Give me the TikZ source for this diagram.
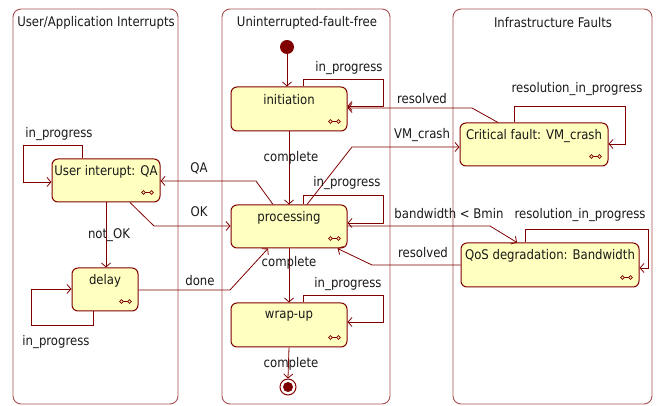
\documentclass[tikz,border=0pt]{standalone}
\usepackage{fontspec}
\setmainfont{DejaVu Sans}[FakeStretch=0.88]
\usetikzlibrary{arrows.meta,calc}
\definecolor{dred}{HTML}{800000}
\definecolor{lanec}{HTML}{A85050}
\definecolor{sfill}{HTML}{FFFFC0}
\newcommand\stateicon[1]{%
  \draw[dred,line width=0.7pt] ($(#1.south east)+(-17,-10)$) circle (1.8)
    ($(#1.south east)+(-9,-10)$) circle (1.8)
    ($(#1.south east)+(-15.2,-10)$) -- ($(#1.south east)+(-10.8,-10)$);}
\begin{document}
\begin{tikzpicture}[x=1pt,y=-1pt,
  every node/.style={inner sep=0pt},
  txt/.style={font=\fontsize{13.3}{15}\selectfont, text=black!90},
  lane/.style={draw=lanec, line width=0.9pt, rounded corners=8pt},
  state/.style={draw=dred, fill=sfill, line width=1pt, rounded corners=6pt},
  conn/.style={draw=dred, line width=0.8pt, -{Straight Barb[length=4pt,width=9pt]}}]
\useasboundingbox (0,0) rectangle (657,406);
% lanes
\node[lane, minimum width=165pt, minimum height=395pt] (lane1) at (95.5,206.5) {};
\node[lane, minimum width=168pt, minimum height=395pt] (lane2) at (306,206.5) {};
\node[lane, minimum width=199pt, minimum height=395pt] (lane3) at (552.5,206.5) {};
\node[txt] (t1) at (96,23) {User/Application Interrupts};
\node[txt] (t2) at (307,23) {Uninterrupted-fault-free};
\node[txt] (t3) at (553,23) {Infrastructure Faults};
% states
\node[state, minimum width=116pt, minimum height=44pt] (init) at (289,109) {};
\node[state, minimum width=116pt, minimum height=43pt] (proc) at (289,226.5) {};
\node[state, minimum width=116pt, minimum height=44pt] (wrap) at (289,325) {};
\node[state, minimum width=108pt, minimum height=43pt] (ui) at (106,180.5) {};
\node[state, minimum width=66pt, minimum height=43pt] (delay) at (105,289.5) {};
\node[state, minimum width=148pt, minimum height=43pt] (crit) at (534,144.5) {};
\node[state, minimum width=178pt, minimum height=44pt] (qos) at (550,265) {};
\node[txt] (initT) at ([yshift=-13.5pt]init.north) {initiation};
\node[txt] (procT) at ([yshift=-13.5pt]proc.north) {processing};
\node[txt] (wrapT) at ([yshift=-13.5pt]wrap.north) {wrap-up};
\node[txt] (uiT) at ([yshift=-13.5pt]ui.north) {User interupt: QA};
\node[txt] (delayT) at ([yshift=-13.5pt]delay.north) {delay};
\node[txt] (critT) at ([yshift=-13.5pt]crit.north) {Critical fault: VM\_crash};
\node[txt] (qosT) at ([yshift=-13.5pt]qos.north) {QoS degradation: Bandwidth};
\foreach \s in {init,proc,wrap,ui,delay,crit,qos} {\stateicon{\s}}
% pseudo states
\node[circle, fill=dred, minimum size=14pt] (start) at (287,47) {};
\node[circle, draw=dred, line width=1pt, fill=white, minimum size=16pt] (final) at (288,387) {};
\node[circle, fill=dred, minimum size=10pt] (finalin) at (288,387) {};
% connectors
\draw[conn] (start.south) -- (start.south |- init.north);
\draw[conn] ([xshift=14pt]init.north) |- (383,79) |- (init.east |- 0,106);
\draw[conn] ([xshift=-36pt]crit.north) -- (472,108) -- (init.east |- 0,108);
\draw[conn] (init.south) -- (proc.north);
\draw[conn] ([xshift=18pt]proc.north) -- (352,147) -- (crit.west |- 0,147);
\draw[conn] ([xshift=14pt]proc.north) |- (383,195) |- (proc.east |- 0,223);
\draw[conn] (proc.east |- 0,226) -- (490,226) -- ([xshift=-33pt]qos.north);
\draw[conn] ([xshift=-25pt]qos.north) |- (648,229) |- (qos.east |- 0,268);
\draw[conn] (qos.west |- 0,265) -- (372,265) -- ([xshift=-10pt]proc.south east);
\draw[conn] (proc.south) -- (wrap.north);
\draw[conn] ([xshift=14pt]wrap.north) |- (383,295) |- (wrap.east |- 0,322);
\draw[conn] (wrap.south) -- (final.north);
\draw[conn] ([xshift=-20pt]crit.north) |- (625,106) |- (crit.east |- 0,144);
\draw[conn] ([xshift=-16pt]proc.north) -- (256,181) -- (ui.east |- 0,181);
\draw[conn] ([xshift=24pt]ui.south) -- (154,226) -- (proc.west |- 0,226);
\draw[conn] ([xshift=-24pt]ui.north) |- (23,145) |- (ui.west |- 0,182);
\draw[conn] (ui.south) -- (ui.south |- delay.north);
\draw[conn] ([xshift=-12pt]delay.south) |- (31,325) |- (delay.west |- 0,289);
\draw[conn] (delay.east |- 0,290) -- (230,290) -- ([xshift=-21pt]proc.south);
% labels
\node[txt] (l1) at (349,68) {in\_progress};
\node[txt] (l2) at (422,99) {resolved};
\node[txt] (l3) at (291,158) {complete};
\node[txt] (l4) at (422,135) {VM\_crash};
\node[txt] (l5) at (347,183) {in\_progress};
\node[txt] (l6) at (449,214) {bandwidth < Bmin};
\node[txt] (l7) at (580,215) {resolution\_in\_progress};
\node[txt] (l8) at (423,253) {resolved};
\node[txt] (l9) at (289,263) {complete};
\node[txt] (l10) at (348,284) {in\_progress};
\node[txt] (l11) at (291,364) {complete};
\node[txt] (l12) at (577,89) {resolution\_in\_progress};
\node[txt] (l13) at (199,168) {QA};
\node[txt] (l14) at (199,212) {OK};
\node[txt] (l15) at (59,134) {in\_progress};
\node[txt] (l16) at (109,235) {not\_OK};
\node[txt] (l17) at (56,342) {in\_progress};
\node[txt] (l18) at (200,281) {done};
\end{tikzpicture}
\end{document}
